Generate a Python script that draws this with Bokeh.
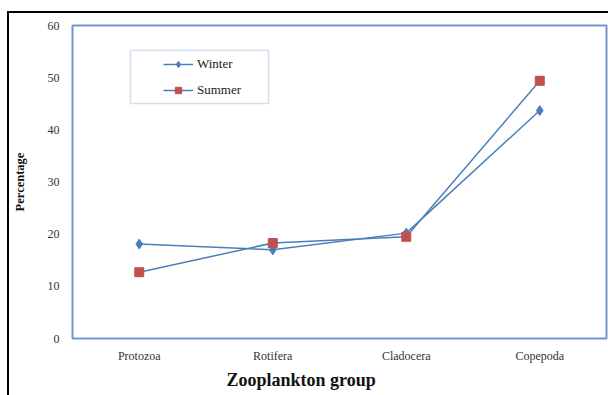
from bokeh.plotting import figure
from bokeh.models import (FactorRange, Range1d, SingleIntervalTicker, Legend, LegendItem,
                          BoxAnnotation, ColumnDataSource, Title)
from bokeh.embed import file_html
from bokeh.resources import INLINE

categories = ["Protozoa", "Rotifera", "Cladocera", "Copepoda"]
winter = [18.1, 17.0, 20.2, 43.7]
summer = [12.7, 18.3, 19.5, 49.4]

FONT = "Liberation Serif"
LINE_BLUE = "#4a7ebb"
FRAME_BLUE = "#7098cc"
RED = "#c0504d"

p = figure(width=601, height=384, x_range=FactorRange(*categories), y_range=Range1d(0, 60),
           output_backend="svg", toolbar_location=None,
           min_border_left=63, min_border_top=12, min_border_right=4, min_border_bottom=59,
           styles={"border-left": "2px solid black", "border-top": "2px solid black",
                   "margin-top": "11px", "margin-left": "7px"})
p.xgrid.visible = False
p.ygrid.visible = False
p.outline_line_color = FRAME_BLUE
p.outline_line_width = 2
p.background_fill_color = "white"
p.border_fill_color = "white"

src = ColumnDataSource(dict(cat=categories, winter=winter, summer=summer))
lw = p.line("cat", "winter", source=src, line_color=LINE_BLUE, line_width=1.5)
mw = p.scatter("cat", "winter", source=src, marker="diamond", size=10,
               fill_color=LINE_BLUE, line_color=LINE_BLUE)
ls = p.line("cat", "summer", source=src, line_color=LINE_BLUE, line_width=1.5)
ms = p.scatter("cat", "summer", source=src, marker="square", size=9,
               fill_color=RED, line_color=RED)

p.yaxis.ticker = SingleIntervalTicker(interval=10)
for ax in (p.xaxis[0], p.yaxis[0]):
    ax.axis_line_color = None
    ax.major_tick_line_color = None
    ax.minor_tick_line_color = None
    ax.major_tick_out = 0
    ax.major_tick_in = 0
    ax.minor_tick_out = 0
    ax.minor_tick_in = 0
    ax.major_label_text_font = FONT
    ax.major_label_text_font_size = "12px"
    ax.major_label_text_color = "#333333"
    ax.axis_label_text_font = FONT
    ax.axis_label_text_font_style = "bold"
    ax.axis_label_text_color = "#111111"

p.xaxis.major_label_standoff = 10
p.yaxis.axis_label = "Percentage"
p.yaxis.axis_label_text_font_size = "12.5px"
p.yaxis.major_label_standoff = 13
p.yaxis.axis_label_standoff = 18

xtitle = Title(text="Zooplankton group", align="left", offset=154, standoff=4,
               text_font=FONT, text_font_style="bold", text_font_size="18px",
               text_color="#111111")
p.add_layout(xtitle, "below")

legend = Legend(items=[LegendItem(label="Winter", renderers=[lw, mw]),
                       LegendItem(label="Summer", renderers=[ls, ms])],
                location=(91, 240), padding=0, spacing=10, glyph_height=16, glyph_width=30,
                label_standoff=4, border_line_color=None, background_fill_alpha=0,
                label_text_font=FONT, label_text_font_size="13px", label_text_color="#222222")
p.add_layout(legend, "center")

# legend frame
p.add_layout(BoxAnnotation(left=58, right=196, top=288, bottom=235,
                           left_units="screen", right_units="screen",
                           top_units="screen", bottom_units="screen",
                           fill_alpha=0, line_color=FRAME_BLUE, line_width=1.5))

open("out.html", "w").write(file_html(p, INLINE))
